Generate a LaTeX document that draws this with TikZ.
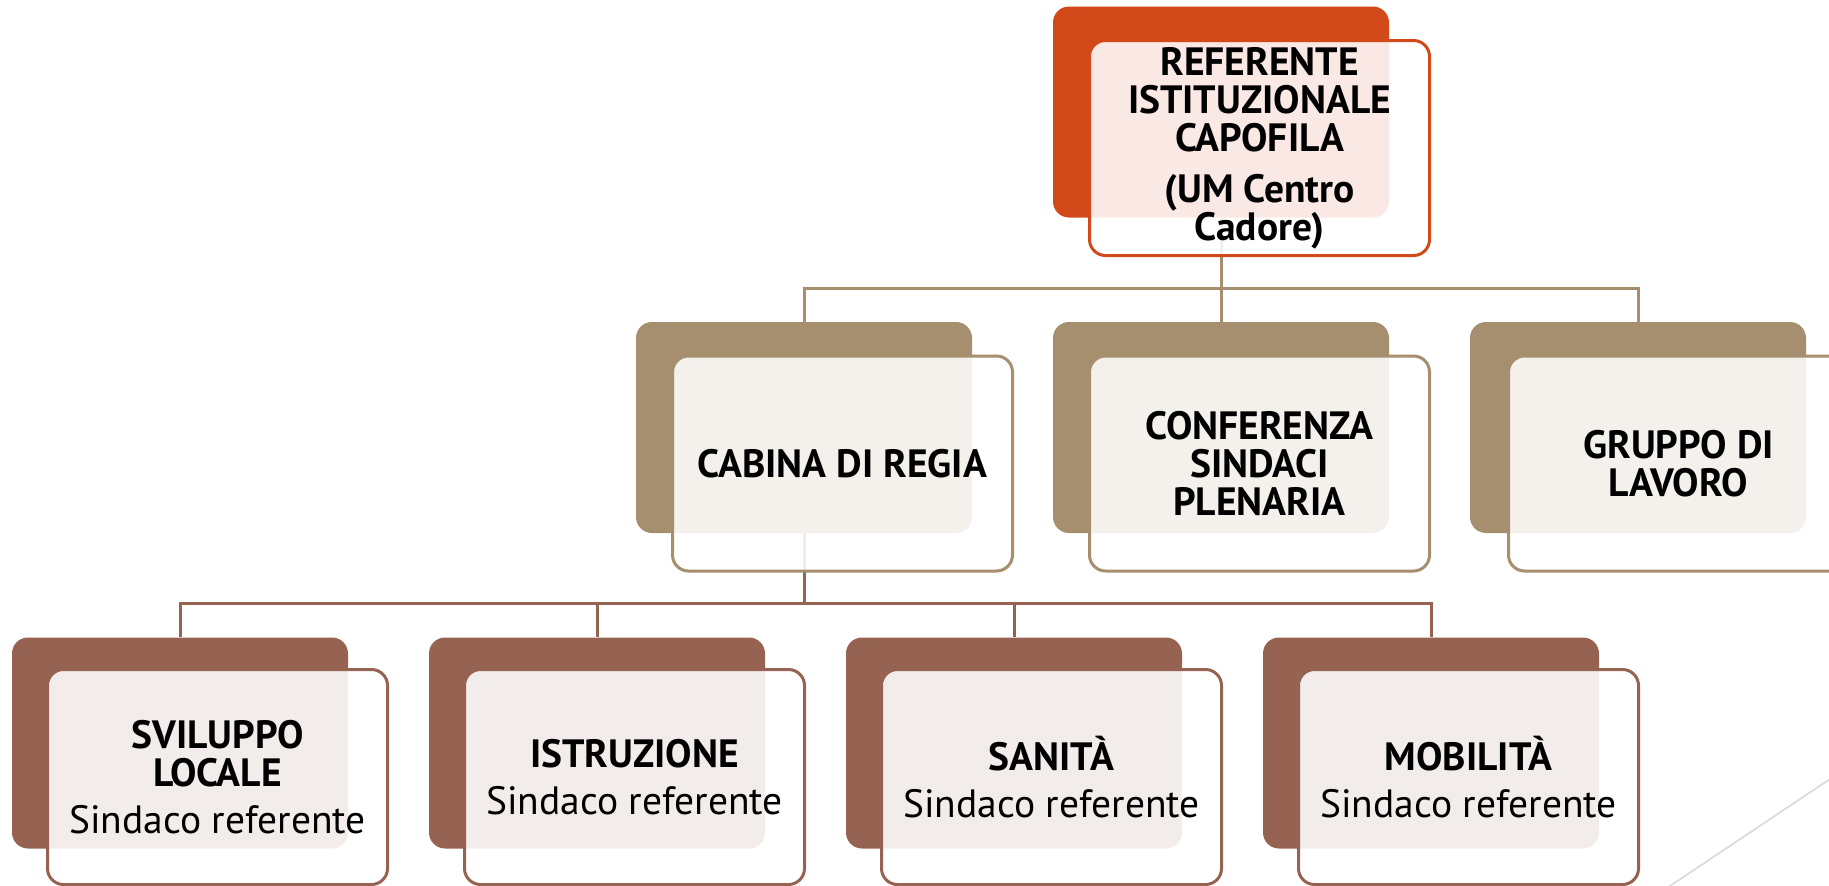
\documentclass[tikz,border=0pt]{standalone}
\usepackage{fontspec}
\setmainfont{PT Sans}
\definecolor{corange}{RGB}{210,74,26}
\definecolor{ctan}{RGB}{165,143,110}
\definecolor{cbrown}{RGB}{150,99,83}
\definecolor{cdiag}{RGB}{215,215,215}
\newcommand\boxfont{\fontsize{39.5}{38}\selectfont}
\begin{document}
\begin{tikzpicture}[x=1pt,y=-1pt,
  back/.style={rounded corners=16pt, inner sep=0pt, minimum width=336pt, minimum height=211pt},
  front/.style={rounded corners=16pt, draw, line width=3pt, fill=white, fill opacity=0.88,
    text opacity=1, inner sep=0pt, minimum width=340pt, minimum height=215pt,
    align=center, font=\boxfont, text=black},
  conn/.style={line width=3pt}]
\useasboundingbox (0,0) rectangle (1829,886);
\clip (0,0) rectangle (1829,886);
% back plates
\node[back, fill=corange] (topb) at (1221,112) {};
\node[back, fill=ctan] (cabb) at (804,427.5) {};
\node[back, fill=ctan] (confb) at (1221,427.5) {};
\node[back, fill=ctan] (grupb) at (1638,427.5) {};
\node[back, fill=cbrown] (svb) at (180,743) {};
\node[back, fill=cbrown] (isb) at (597,743) {};
\node[back, fill=cbrown] (sab) at (1014,743) {};
\node[back, fill=cbrown] (mob) at (1431,743) {};
% connectors
\coordinate (bus1) at (1221,288);
\coordinate (bus2) at (804,603);
\draw[conn, ctan] (topb.south) -- (bus1);
\draw[conn, ctan] (bus1) -| (cabb.north);
\draw[conn, ctan] (bus1) -| (confb.north);
\draw[conn, ctan] (bus1) -| (grupb.north);
\draw[conn, cbrown] (cabb.south) -- (bus2);
\draw[conn, cbrown] (bus2) -| (svb.north);
\draw[conn, cbrown] (bus2) -| (isb.north);
\draw[conn, cbrown] (bus2) -| (sab.north);
\draw[conn, cbrown] (bus2) -| (mob.north);
% front boxes
\node[front, draw=corange, font=\boxfont\bfseries] (top) at (1259.5,148)
  {REFERENTE\\ISTITUZIONALE\\CAPOFILA\\[13pt](UM Centro\\Cadore)};
\node[front, draw=ctan, font=\boxfont\bfseries] (cab) at (842.5,463.5) {CABINA DI REGIA};
\node[front, draw=ctan, font=\boxfont\bfseries] (conf) at (1259.5,463.5) {CONFERENZA\\SINDACI\\PLENARIA};
\node[front, draw=ctan, font=\boxfont\bfseries] (grup) at (1678.5,463.5) {GRUPPO DI\\LAVORO};
\node[front, draw=cbrown] (sv) at (217.5,777) {\textbf{SVILUPPO}\\\textbf{LOCALE}\\[9pt]Sindaco referente};
\node[front, draw=cbrown] (is) at (634.5,777) {\textbf{ISTRUZIONE}\\[9pt]Sindaco referente};
\node[front, draw=cbrown] (sa) at (1051.5,777) {\textbf{SANITÀ}\\[9pt]Sindaco referente};
\node[front, draw=cbrown] (mo) at (1468.5,777) {\textbf{MOBILITÀ}\\[9pt]Sindaco referente};
% decorative diagonal line
\draw[cdiag, line width=1.5pt] (1845,769) -- (1655,896);
\end{tikzpicture}
\end{document}
